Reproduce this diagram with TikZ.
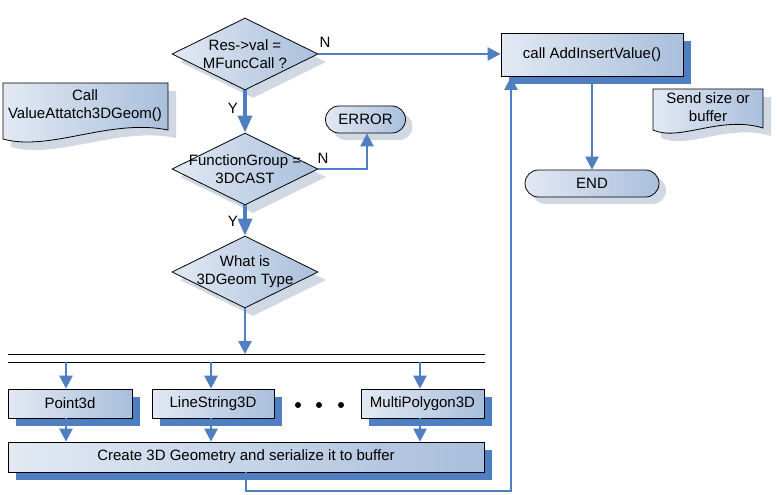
\documentclass[tikz,border=0pt]{standalone}
\usepackage{fontspec}
\setmainfont{Liberation Sans}
\usetikzlibrary{shapes.geometric,arrows.meta,shadows,calc}
\definecolor{arrowblue}{HTML}{4F7FC0}
\definecolor{fillL}{HTML}{E2E9F3}
\definecolor{fillR}{HTML}{A9BFDC}
\definecolor{shadegrey}{HTML}{D0D8E4}
\begin{document}
\begin{tikzpicture}[x=1pt,y=-1pt,font=\fontsize{15}{18}\selectfont,
  flow/.style={draw=arrowblue,line width=2.5pt,-{Triangle[length=13pt,width=13pt]}},
  yflow/.style={draw=arrowblue,line width=3.5pt,-{Triangle[length=17pt,width=14pt]}},
  boxshape/.style={rectangle,draw=black,line width=0.8pt,left color=fillL,right color=fillR,inner sep=0pt,
    drop shadow={shadow xshift=8pt,shadow yshift=-8pt,fill=arrowblue,opacity=1}},
  decision/.style={diamond,draw=black,line width=0.8pt,left color=fillL,right color=fillR,inner sep=0pt,
    minimum width=146pt,minimum height=72pt,
    drop shadow={shadow xshift=8pt,shadow yshift=-8pt,fill=shadegrey,opacity=1}},
  terminal/.style={rectangle,draw=black,line width=0.8pt,left color=fillL,right color=fillR,inner sep=0pt,
    minimum height=27pt,rounded corners=13.5pt,
    drop shadow={shadow xshift=7pt,shadow yshift=-7pt,fill=shadegrey,opacity=1}},
  doctext/.style={align=center,inner sep=0pt},
  lbl/.style={inner sep=0pt}]
\useasboundingbox[fill=white] (0,0) rectangle (777,495);

% documents
\fill[shadegrey,shift={(8,8)}] (3,83) -- (168,83) -- (168,130) .. controls (110,118) and (50,152) .. (3,139) -- cycle;
\path[draw=black,line width=0.8pt,left color=fillL,right color=fillR] (3,83) -- (168,83) -- (168,130) .. controls (110,118) and (50,152) .. (3,139) -- cycle;
\node[doctext] (calltxt) at (85,106) {Call\\ValueAttatch3DGeom()};

\fill[shadegrey,shift={(8,8)}] (653,89) -- (763,89) -- (763,128) .. controls (720,115) and (680,142) .. (653,130) -- cycle;
\path[draw=black,line width=0.8pt,left color=fillL,right color=fillR] (653,89) -- (763,89) -- (763,128) .. controls (720,115) and (680,142) .. (653,130) -- cycle;
\node[doctext] (sendtxt) at (708,107) {Send size or\\buffer};

% decisions
\node[decision] (d1) at (245,54) {};
\node[doctext] (d1t) at (d1) {Res->val =\\MFuncCall ?};
\node[decision] (d2) at (245,169) {};
\node[doctext] (d2t) at (d2) {FunctionGroup =\\3DCAST};
\node[decision] (d3) at (245,272) {};
\node[doctext] (d3t) at (d3) {What is\\3DGeom Type};

% terminals
\node[terminal,minimum width=80pt] (err) at (365.5,119.5) {ERROR};
\node[terminal,minimum width=134pt] (endt) at (592,183.5) {END};

% boxes
\node[boxshape,minimum width=182pt,minimum height=43pt] (addins) at (592,55) {call AddInsertValue()};
\node[boxshape,minimum width=124pt,minimum height=29pt] (p3d) at (70,403.5) {Point3d};
\node[boxshape,minimum width=122pt,minimum height=29pt] (ls3d) at (213,403.5) {LineString3D};
\node[boxshape,minimum width=123pt,minimum height=29pt] (mp3d) at (422.5,403.5) {MultiPolygon3D};
\node[boxshape,minimum width=476pt,minimum height=30pt] (create) at (246,457) {Create 3D Geometry and serialize it to buffer};

% dots
\fill (298,405) circle (3pt);
\fill (319,405) circle (3pt);
\fill (341,405) circle (3pt);

% split lines
\coordinate (L1a) at (8,354); \coordinate (L1b) at (485,354);
\coordinate (L2a) at (8,362); \coordinate (L2b) at (485,362);
\draw[line width=0.8pt] (L1a) -- (L1b);
\draw[line width=0.8pt] (L2a) -- (L2b);

% connectors
\draw[flow] (d1.east) -- (d1.east -| addins.west);
\node[lbl] (n1) at (325,42) {N};
\draw[yflow] (d1.south) -- (d2.north);
\node[lbl] (y1) at (233,108) {Y};
\draw[flow] (d2.east) -| (367,0 |- err.south);
\node[lbl] (n2) at (323,158) {N};
\draw[yflow] (d2.south) -- (d3.north);
\node[lbl] (y2) at (233,221) {Y};
\draw[flow] (d3.south) -- (d3.south |- L1a);
\draw[flow] (66,362) -- (66,0 |- p3d.north);
\draw[flow] (211,362) -- (211,0 |- ls3d.north);
\draw[flow] (420,362) -- (420,0 |- mp3d.north);
\draw[flow] (66,0 |- p3d.south) -- (66,0 |- create.north);
\draw[flow] (211,0 |- ls3d.south) -- (211,0 |- create.north);
\draw[flow] (420,0 |- mp3d.south) -- (420,0 |- create.north);
\coordinate (ret) at (511,491);
\draw[flow] (create.south) |- (ret) -- (ret |- addins.south);
\draw[flow] (addins.south) -- (endt.north);
\end{tikzpicture}
\end{document}
